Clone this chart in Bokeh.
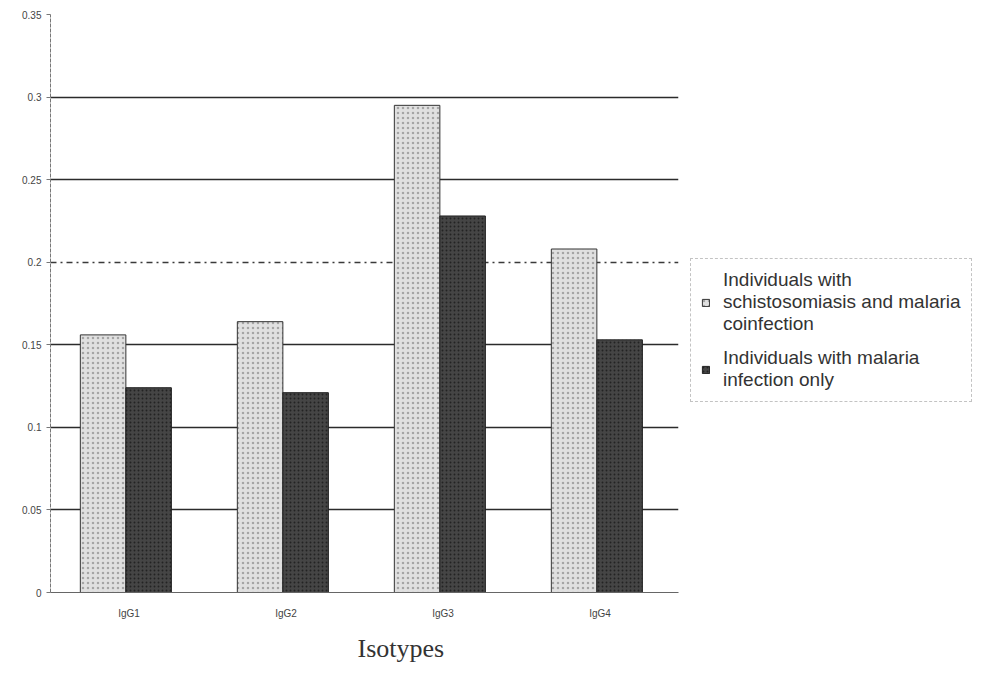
from bokeh.plotting import figure
from bokeh.layouts import row
from bokeh.models import (FactorRange, FixedTicker, Grid, Legend, LegendItem,
                          ColumnDataSource, Title)
from bokeh.transform import dodge
from bokeh.embed import file_html
from bokeh.resources import INLINE

categories = ["IgG1", "IgG2", "IgG3", "IgG4"]
coinfection = [0.156, 0.164, 0.295, 0.208]
malaria_only = [0.124, 0.121, 0.228, 0.153]
y_ticks = [0, 0.05, 0.1, 0.15, 0.2, 0.25, 0.3, 0.35]
y_tick_labels = ["0", "0.05", "0.1", "0.15", "0.2", "0.25", "0.3", "0.35"]
series_labels = ["Individuals with\nschistosomiasis and malaria\ncoinfection",
                 "Individuals with malaria\ninfection only"]

light_style = dict(fill_color="#e0e0e0", line_color="#333333", line_width=1,
                   hatch_pattern=".", hatch_color="#8a8a8a", hatch_scale=5, hatch_alpha=0.7)
dark_style = dict(fill_color="#454545", line_color="#222222", line_width=1,
                  hatch_pattern=".", hatch_color="#1a1a1a", hatch_scale=4, hatch_alpha=0.8)

src = ColumnDataSource(dict(cat=categories, a=coinfection, b=malaria_only))

p = figure(width=684, height=672, x_range=FactorRange(*categories, range_padding=0),
           y_range=(0, 0.35), output_backend="svg", toolbar_location=None,
           min_border_left=50, min_border_top=14, min_border_right=6,
           min_border_bottom=20)
p.outline_line_color = None
p.background_fill_color = "white"
p.xgrid.visible = False
p.ygrid.visible = False

solid_ticks = [t for t in y_ticks if t not in (0, 0.2)]
g1 = Grid(dimension=1, ticker=FixedTicker(ticks=solid_ticks),
          grid_line_color="#2b2b2b", grid_line_width=1.5)
g2 = Grid(dimension=1, ticker=FixedTicker(ticks=[0.2]),
          grid_line_color="#3a3a3a", grid_line_width=1.3, grid_line_dash="dashdot")
p.add_layout(g1, "center")
p.add_layout(g2, "center")

p.vbar(x=dodge("cat", -0.165, range=p.x_range), top="a", width=0.29, source=src, **light_style)
p.vbar(x=dodge("cat", 0.125, range=p.x_range), top="b", width=0.29, source=src, **dark_style)

p.yaxis.ticker = FixedTicker(ticks=y_ticks)
p.yaxis.major_label_overrides = {t: l for t, l in zip(y_ticks, y_tick_labels)}
p.yaxis.major_label_text_font = "Liberation Sans"
p.yaxis.major_label_text_font_size = "10px"
p.yaxis.major_label_text_color = "#444444"
p.yaxis.axis_line_color = "#777777"
p.yaxis.axis_line_dash = "4 1"
p.yaxis.major_tick_line_color = "#777777"
p.yaxis.major_tick_out = 4
p.yaxis.major_tick_in = 0
p.yaxis.minor_tick_line_color = None

p.xaxis.major_label_text_font = "Liberation Sans"
p.xaxis.major_label_text_font_size = "10px"
p.xaxis.major_label_text_color = "#444444"
p.xaxis.axis_line_color = "#666666"
p.xaxis.major_tick_line_color = None
p.xaxis.major_label_standoff = 9

xt = Title(text="Isotypes", align="left", offset=307, standoff=20,
           text_font="Liberation Serif", text_font_size="26px",
           text_font_style="normal", text_color="#333333")
p.add_layout(xt, "below")

# legend panel (shares ranges, holds hidden proxy renderers for the legend glyphs)
q = figure(width=288, height=672, x_range=p.x_range, y_range=p.y_range,
           output_backend="svg", toolbar_location=None,
           min_border_left=0, min_border_right=0, min_border_top=0, min_border_bottom=0)
q.axis.visible = False
q.grid.visible = False
q.outline_line_color = None
la = q.vbar(x="cat", top="a", width=0.29, source=src, visible=False, **light_style)
lb = q.vbar(x="cat", top="b", width=0.29, source=src, visible=False, **dark_style)

legend = Legend(items=[LegendItem(label=series_labels[0], renderers=[la]),
                       LegendItem(label=series_labels[1], renderers=[lb])],
                location=(6, 190), orientation="vertical",
                label_text_font="Liberation Sans", label_text_font_size="19px",
                label_text_color="#333333", label_text_line_height=1.14,
                glyph_width=9, glyph_height=9, label_standoff=13,
                padding=10, spacing=12, margin=0,
                border_line_color="#888888", border_line_dash="3 3",
                border_line_width=1, background_fill_alpha=0)
q.add_layout(legend, "center")

layout = row(p, q)
open("out.html", "w").write(file_html(layout, INLINE))
